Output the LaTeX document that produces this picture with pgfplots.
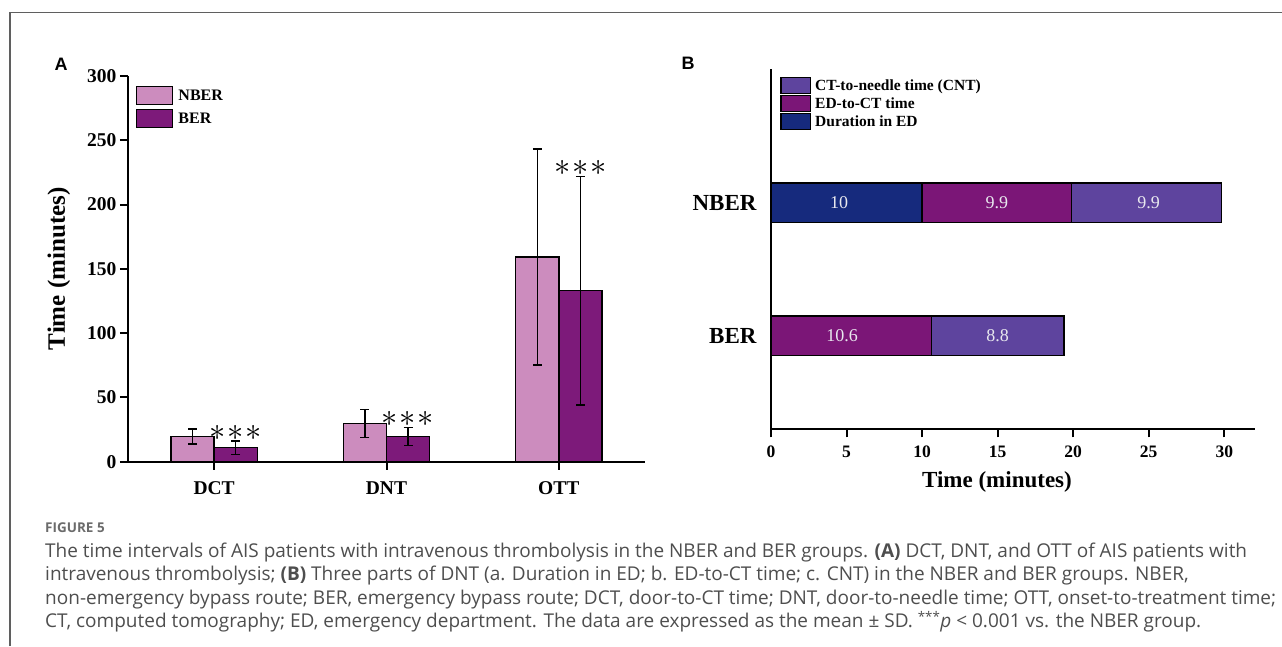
\documentclass[border=0pt]{standalone}
\usepackage{pgfplots}
\pgfplotsset{compat=1.18}
\usepackage{pgfplotstable}
\usepackage{graphicx}
\usepackage{fontspec}
\setmainfont{Liberation Serif}
\newfontfamily\capfont{Open Sans}
\newfontfamily\panelfont{Liberation Sans}
\definecolor{nber}{RGB}{204,140,190}
\definecolor{ber}{RGB}{125,26,122}
\definecolor{durED}{RGB}{22,42,125}
\definecolor{edct}{RGB}{123,22,119}
\definecolor{cnt}{RGB}{94,68,158}
\definecolor{capgray}{RGB}{78,78,78}
\definecolor{framegray}{RGB}{95,95,95}
\definecolor{barlab}{RGB}{232,232,238}
\newcommand{\fs}[1]{\fontsize{#1}{#1}\selectfont}
\newcommand{\legboxA}[1]{\draw[fill=#1, draw=black, line width=1.5pt] (0pt,-9pt) rectangle (36pt,9pt);}
\newcommand{\legboxB}[1]{\draw[fill=#1, draw=black, line width=1.5pt] (0pt,-8pt) rectangle (29.5pt,8pt);}

\pgfplotstableread{
x nber nbererr ber bererr
0 19.6 5.9 10.9 5.2
1 29.9 10.9 19.5 7.0
2 159.2 84.1 133.0 88.8
}\dataA

\pgfplotstableread{
y dur edct cnt
0 0 10.6 8.8
1 10 9.9 9.9
}\dataB

\pgfplotstableread{
x y lab
4.5 1 10
14.95 1 9.9
25.0 1 9.9
4.7 0 10.6
15.0 0 8.8
}\labB

\pgfplotsset{
  errA/.style={draw=none, mark=none, forget plot,
    error bars/.cd, y dir=both, y explicit,
    error bar style={draw=black, solid, line width=1.3pt},
    error mark options={draw=black, solid, line width=1.3pt, mark size=4.5pt, rotate=90}},
}

\begin{document}
\begin{tikzpicture}
\useasboundingbox (0,0) rectangle (1282pt,646pt);
\draw[framegray, line width=1.2pt] (10pt,0pt) -- (10pt,633.7pt) -- (1282pt,633.7pt);

% ---------------- Panel A ----------------
\begin{axis}[
  at={(128pt,184.3pt)}, anchor=south west,
  scale only axis, width=517pt, height=385.7pt,
  xmin=-0.5, xmax=2.5, ymin=0, ymax=300,
  axis lines=left, axis line style={-, line width=2.2pt},
  xtick={0,1,2}, xticklabels={DCT,DNT,OTT},
  ytick={0,50,...,300},
  tick align=outside, major tick length=8pt,
  tick style={line width=2pt, black},
  /pgf/number format/assume math mode=true,
  ticklabel style={font=\bfseries\fs{19.5}},
  xticklabel style={yshift=-8pt},
  ylabel={Time (minutes)},
  ylabel style={font=\bfseries\fs{25}, at={(axis description cs:-0.1335,0.5)}, anchor=center},
  legend style={at={(axis description cs:0.0150,0.9750)}, anchor=north west,
    draw=none, fill=none, inner sep=0pt, row sep=3.5pt,
    nodes={inner xsep=5pt, inner ysep=0pt},
    font=\bfseries\fs{16}, cells={anchor=west}},
  clip=false,
]
\addplot[ybar, bar width=0.25, bar shift=-0.125, fill=nber, draw=black, line width=1.4pt,
  legend image code/.code={\legboxA{nber}}]
  table[x=x, y=nber] {\dataA};
\addlegendentry{NBER}
\addplot[ybar, bar width=0.25, bar shift=0.125, fill=ber, draw=black, line width=1.4pt,
  legend image code/.code={\legboxA{ber}}]
  table[x=x, y=ber] {\dataA};
\addlegendentry{BER}
\addplot[errA] table[x expr=\thisrow{x}-0.125, y=nber, y error=nbererr] {\dataA};
\addplot[errA] table[x expr=\thisrow{x}+0.125, y=ber, y error=bererr] {\dataA};
\addplot[draw=none, mark=none, forget plot,
  nodes near coords={\fs{12}\scalebox{2.7}{$\mathord{\ast}\mkern1mu\mathord{\ast}\mkern1mu\mathord{\ast}$}},
  every node near coord/.append style={inner sep=0.5pt, text=black}]
  table[x expr=\thisrow{x}+0.125, y expr=\thisrow{ber}+\thisrow{bererr}] {\dataA};
\end{axis}

% ---------------- Panel B ----------------
\begin{axis}[
  at={(771pt,216.7pt)}, anchor=south west,
  scale only axis, width=483.5pt, height=360.3pt,
  xmin=0, xmax=32, ymin=-0.704, ymax=2.005,
  xbar stacked, bar width=0.297,
  axis lines=left, axis line style={-, line width=2.2pt},
  xtick={0,5,...,30}, ytick={0,1}, yticklabels={BER,NBER},
  tick align=outside, major tick length=8pt,
  xtick style={line width=2pt, black}, ytick style={draw=none},
  /pgf/number format/assume math mode=true,
  xticklabel style={font=\bfseries\fs{17.5}, yshift=-5pt},
  yticklabel style={font=\bfseries\fs{23}, xshift=-3pt},
  xlabel={Time (minutes)},
  xlabel style={font=\bfseries\fs{23}, at={(axis description cs:0.4674,-0.1454)}, anchor=center},
  reverse legend,
  legend style={at={(axis description cs:0.0186,0.9786)}, anchor=north west,
    draw=none, fill=none, inner sep=0pt, row sep=0.5pt,
    nodes={inner xsep=4pt, inner ysep=0pt},
    font=\bfseries\fs{15.5}, cells={anchor=west}},
]
\addplot[fill=durED, draw=black, line width=1.3pt, legend image code/.code={\legboxB{durED}}] table[x=dur, y=y] {\dataB};
\addlegendentry{Duration in ED}
\addplot[fill=edct, draw=black, line width=1.3pt, legend image code/.code={\legboxB{edct}}] table[x=edct, y=y] {\dataB};
\addlegendentry{ED-to-CT time}
\addplot[fill=cnt, draw=black, line width=1.3pt, legend image code/.code={\legboxB{cnt}}] table[x=cnt, y=y] {\dataB};
\addlegendentry{CT-to-needle time (CNT)}
\end{axis}

\begin{axis}[
  at={(771pt,216.7pt)}, anchor=south west,
  scale only axis, width=483.5pt, height=360.3pt,
  xmin=0, xmax=32, ymin=-0.704, ymax=2.005,
  hide axis, clip=false,
]
\addplot[draw=none, mark=none, nodes near coords, point meta=explicit symbolic,
  every node near coord/.append style={anchor=center, text=barlab, font=\fs{18}}]
  table[x=x, y=y, meta=lab] {\labB};
\end{axis}

% panel letters
\node[font=\panelfont\bfseries\fs{18}, anchor=center] at (61pt,582pt) {A};
\node[font=\panelfont\bfseries\fs{18}, anchor=center] at (688pt,583pt) {B};

% caption
\begin{scope}[every node/.style={anchor=base west, inner sep=0pt, text=capgray}]
\node[font=\capfont\bfseries\fs{13.5}, text=black!58] at (45pt,114pt) {FIGURE 5};
\node[font=\capfont\fs{19}] at (45pt,89pt) {The time intervals of AIS patients with intravenous thrombolysis in the NBER and BER groups. \textbf{(A)} DCT, DNT, and OTT of AIS patients with};
\node[font=\capfont\fs{19}] at (45pt,65.5pt) {intravenous thrombolysis; \textbf{(B)} Three parts of DNT (a. Duration in ED; b. ED-to-CT time; c. CNT) in the NBER and BER groups. NBER,};
\node[font=\capfont\fs{19}] at (45pt,42pt) {non-emergency bypass route; BER, emergency bypass route; DCT, door-to-CT time; DNT, door-to-needle time; OTT, onset-to-treatment time;};
\node[font=\capfont\fs{19}] at (45pt,18.5pt) {CT, computed tomography; ED, emergency department. The data are expressed as the mean ± SD. \textsuperscript{***}\textit{p} < 0.001 vs. the NBER group.};
\end{scope}
\end{tikzpicture}
\end{document}
